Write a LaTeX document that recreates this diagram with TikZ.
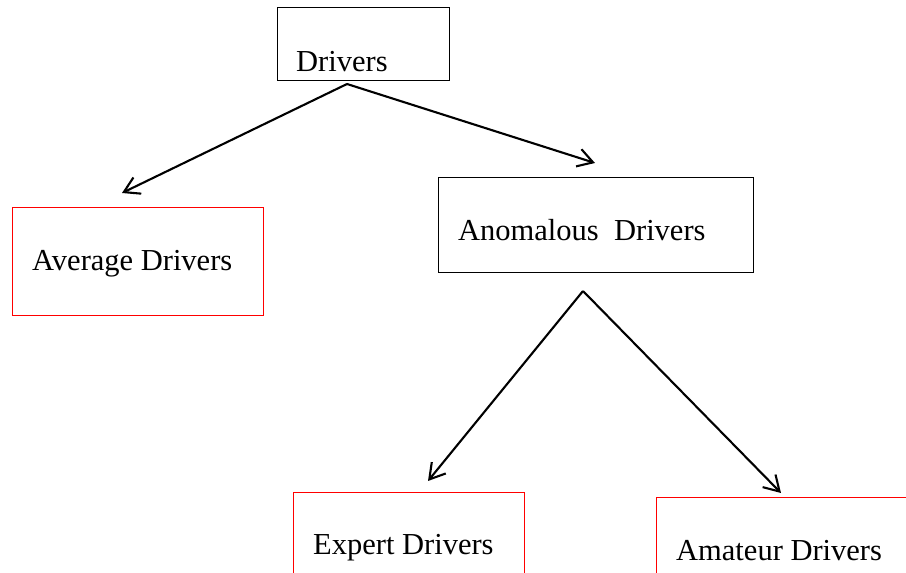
\documentclass[tikz,border=0pt]{standalone}
\usepackage{fontspec}
\setmainfont{Liberation Serif}
\usetikzlibrary{arrows.meta}
\begin{document}
\begin{tikzpicture}[x=1pt,y=1pt,
  box/.style={draw=black,line width=1.3pt,rectangle,inner sep=0pt,anchor=north west},
  redbox/.style={box,draw=red},
  lbl/.style={anchor=base west,inner sep=0pt,font=\fontsize{30.5}{36}\selectfont},
  link/.style={line width=2.1pt,-{Straight Barb[length=15pt,width=18pt,line width=2.1pt]}}]
  \useasboundingbox (0,0) rectangle (906,573);
  \clip (0,0) rectangle (906,573);

  % boxes
  \node[box,minimum width=172pt,minimum height=73pt] (drv) at (277,566) {};
  \node[redbox,minimum width=251pt,minimum height=108pt] (avg) at (12,366) {};
  \node[box,minimum width=315pt,minimum height=95pt] (anom) at (438,396) {};
  \node[redbox,minimum width=231pt,minimum height=120pt] (exp) at (293,81) {};
  \node[redbox,minimum width=300pt,minimum height=120pt] (ama) at (656,76) {};

  % labels
  \node[lbl] (drvt) at (296,501) {Drivers};
  \node[lbl] (avgt) at (32,302) {Average Drivers};
  \node[lbl] (anomt) at (458,332) {Anomalous~~Drivers};
  \node[lbl] (expt) at (313,18) {Expert Drivers};
  \node[lbl] (amat) at (676,12) {Amateur Drivers};

  % branch points and arrow tips
  \coordinate (s1) at (347,489);
  \coordinate (t1) at (122,380);
  \coordinate (t2) at (595,410);
  \coordinate (s2) at (583,282);
  \coordinate (t3) at (428,92);
  \coordinate (t4) at (781,80);

  \draw[link] (s1) -- (t1);
  \draw[link] (s1) -- (t2);
  \draw[link] (s2) -- (t3);
  \draw[link] (s2) -- (t4);
\end{tikzpicture}
\end{document}
